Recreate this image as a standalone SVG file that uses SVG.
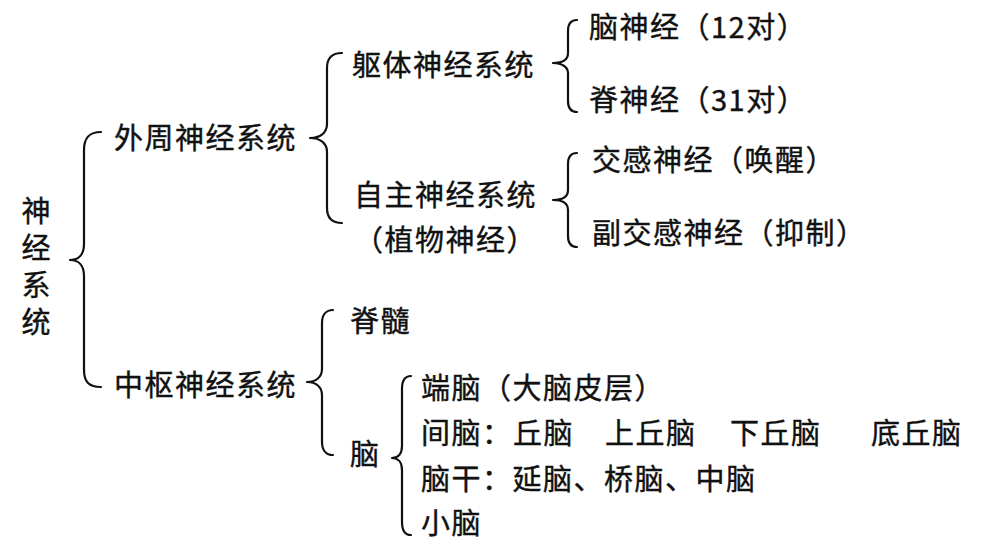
<svg xmlns="http://www.w3.org/2000/svg" width="1000" height="548" viewBox="0 0 1000 548">
<style>
text{font-family:"Noto Sans CJK SC","Noto Sans",sans-serif;font-size:29px;letter-spacing:1.5px;fill:#111;stroke:#111;stroke-width:0.4}
.vert{writing-mode:vertical-rl;letter-spacing:8px}
.brace{fill:none;stroke:#111;stroke-width:2.2;stroke-linecap:round;stroke-linejoin:round}
</style>
<rect width="1000" height="548" fill="#fff"/>
<g id="connectors">
<path class="brace" d="M101,132 C89,132 84,138 84,150 L84,244 C84,254 79,260 70,260 C79,260 84,266 84,276 L84,370 C84,382 89,387 101,387"/>
<path class="brace" d="M342,53 C332,53 327,58 327,68 L327,124 C327,133 320,138 310,138 C320,138 327,143 327,152 L327,208 C327,218 332,223 342,223"/>
<path class="brace" d="M577,20 C571,20 568,24 568,31 L568,53 C568,60 562,63 553,63 C562,63 568,67 568,73 L568,101 C568,108 571,112 577,112"/>
<path class="brace" d="M577,153 C571,153 568,157 568,164 L568,190 C568,197 562,200 553,200 C562,200 568,203 568,210 L568,236 C568,243 571,247 577,247"/>
<path class="brace" d="M333,310 C326,310 322,315 322,323 L322,369 C322,377 316,382 307,382 C316,382 322,387 322,395 L322,442 C322,450 326,455 333,455"/>
<path class="brace" d="M411,376 C405,376 402,381 402,389 L402,446 C402,454 398,458 392,458 C398,458 402,462 402,470 L402,522 C402,530 405,535 411,535"/>
</g>
<g id="n-root"><text class="vert" x="36" y="196">神经系统</text></g>
<g id="n-peripheral"><text x="114" y="149">外周神经系统</text></g>
<g id="n-central"><text x="114" y="396">中枢神经系统</text></g>
<g id="n-somatic"><text x="352" y="76">躯体神经系统</text></g>
<g id="n-autonomic"><text x="354" y="206">自主神经系统</text><text x="354" y="251">（植物神经）</text></g>
<g id="n-cranial"><text x="589" y="38">脑神经（12对）</text></g>
<g id="n-spinal-nerve"><text x="589" y="111">脊神经（31对）</text></g>
<g id="n-sympathetic"><text x="592" y="171">交感神经（唤醒）</text></g>
<g id="n-parasympathetic"><text x="592" y="244">副交感神经（抑制）</text></g>
<g id="n-spinal-cord"><text x="350" y="332">脊髓</text></g>
<g id="n-brain"><text x="350" y="465">脑</text></g>
<g id="n-telencephalon"><text x="421" y="399">端脑（大脑皮层）</text></g>
<g id="n-diencephalon"><text x="421" y="444">间脑：<tspan x="513">丘脑</tspan><tspan x="605">上丘脑</tspan><tspan x="730">下丘脑</tspan><tspan x="871">底丘脑</tspan></text></g>
<g id="n-brainstem"><text x="421" y="490">脑干：延脑、桥脑、中脑</text></g>
<g id="n-cerebellum"><text x="421" y="534">小脑</text></g>
</svg>
